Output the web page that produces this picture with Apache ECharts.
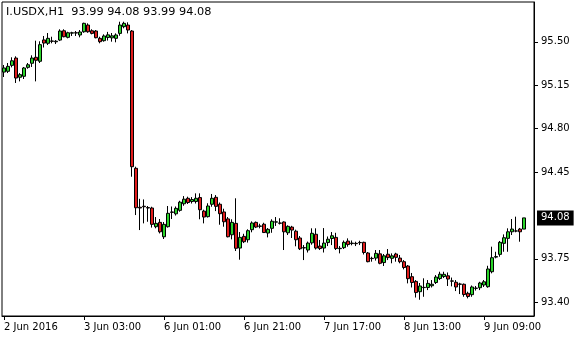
<!DOCTYPE html>
<html>
<head>
<meta charset="utf-8">
<script src="https://cdn.jsdelivr.net/npm/echarts@6/dist/echarts.min.js"></script>
<style>
html,body{margin:0;padding:0;background:#fff;}
#chart{width:580px;height:340px;}
</style>
</head>
<body>
<div id="chart"></div>
<script>
// ---- data ----
const symbol = 'I.USDX';
const period = 'H1';
const firstLabel = '2 Jun 2016';
const sessionStarts = [Date.UTC(2016, 5, 2, 7), Date.UTC(2016, 5, 6, 1)];
const sessionLengths = [40, 91];
const emptySlots = 2;

const opens = [95.256,95.262,95.310,95.369,95.214,95.222,95.294,95.327,95.375,95.343,
95.515,95.488,95.507,95.500,95.514,95.589,95.536,95.570,95.573,95.555,
95.581,95.635,95.589,95.587,95.528,95.509,95.535,95.532,95.528,95.568,
95.622,95.635,95.587,94.480,94.166,94.174,94.163,94.160,94.009,94.044,
93.928,94.009,94.128,94.113,94.141,94.194,94.238,94.212,94.212,94.244,
94.135,94.090,94.190,94.246,94.190,94.128,94.072,93.944,94.036,93.837,
93.931,93.904,93.985,94.044,94.015,94.029,93.958,93.996,94.046,94.039,
94.047,93.960,94.006,93.973,93.918,93.838,93.821,93.879,93.948,93.853,
93.837,93.881,93.914,93.923,93.832,93.840,93.893,93.873,93.875,93.882,
93.883,93.797,93.754,93.756,93.790,93.720,93.787,93.754,93.789,93.756,
93.727,93.692,93.606,93.568,93.485,93.520,93.519,93.533,93.559,93.591,
93.607,93.613,93.572,93.561,93.547,93.545,93.472,93.461,93.512,93.517,
93.539,93.525,93.646,93.764,93.786,93.875,93.915,93.968,93.974,93.990,
93.99];
const highs = [95.313,95.329,95.375,95.383,95.248,95.297,95.329,95.391,95.509,95.504,
95.547,95.571,95.541,95.514,95.601,95.601,95.581,95.581,95.587,95.595,
95.654,95.649,95.601,95.595,95.541,95.560,95.580,95.571,95.568,95.662,
95.662,95.657,95.595,94.493,94.234,94.229,94.176,94.170,94.087,94.071,
94.047,94.176,94.172,94.172,94.218,94.256,94.251,94.248,94.278,94.278,
94.146,94.198,94.273,94.264,94.204,94.154,94.087,94.069,94.238,93.966,
93.952,93.988,94.052,94.051,94.033,94.041,93.998,94.069,94.087,94.077,
94.052,94.020,94.016,93.985,93.934,93.861,93.889,93.996,93.996,93.902,
93.998,93.930,93.966,93.960,93.853,93.898,93.915,93.898,93.888,93.896,
93.888,93.805,93.767,93.821,93.821,93.789,93.829,93.794,93.799,93.781,
93.740,93.700,93.636,93.579,93.555,93.593,93.579,93.579,93.619,93.646,
93.646,93.640,93.599,93.579,93.557,93.551,93.485,93.535,93.531,93.565,
93.579,93.694,93.848,93.807,93.894,93.947,93.996,94.071,94.090,93.999,
94.08];
const lows = [95.216,95.248,95.294,95.168,95.181,95.200,95.283,95.297,95.181,95.329,
95.454,95.474,95.488,95.482,95.506,95.536,95.528,95.547,95.547,95.536,
95.573,95.573,95.560,95.528,95.488,95.501,95.510,95.501,95.496,95.549,
95.609,95.568,94.412,94.103,93.982,94.036,94.049,94.002,93.996,93.955,
93.910,94.002,94.071,94.099,94.130,94.178,94.192,94.196,94.196,94.069,
94.036,94.083,94.170,94.135,94.025,94.009,93.923,93.907,93.813,93.743,
93.877,93.881,93.964,93.998,93.996,93.958,93.923,93.960,94.015,94.027,
93.821,93.942,93.918,93.851,93.821,93.740,93.801,93.864,93.825,93.821,
93.801,93.853,93.861,93.821,93.794,93.829,93.848,93.859,93.853,93.861,
93.785,93.722,93.727,93.736,93.706,93.692,93.740,93.714,93.727,93.714,
93.665,93.552,93.519,93.438,93.420,93.444,93.498,93.519,93.547,93.579,
93.595,93.531,93.528,93.490,93.466,93.444,93.431,93.444,93.494,93.498,
93.523,93.517,93.633,93.754,93.767,93.807,93.807,93.942,93.964,93.888,
93.99];
const closes = [95.289,95.302,95.347,95.208,95.235,95.289,95.315,95.369,95.351,95.477,
95.490,95.528,95.504,95.505,95.587,95.541,95.573,95.573,95.571,95.579,
95.649,95.581,95.568,95.533,95.501,95.547,95.556,95.548,95.555,95.635,
95.649,95.595,94.493,94.162,94.160,94.170,94.160,94.028,94.036,93.968,
94.028,94.117,94.125,94.157,94.207,94.231,94.204,94.228,94.238,94.146,
94.087,94.176,94.238,94.173,94.114,94.049,93.928,94.044,93.835,93.923,
93.888,93.977,94.039,94.006,94.012,93.962,93.988,94.053,94.048,94.037,
93.968,94.012,93.982,93.904,93.831,93.840,93.877,93.956,93.837,93.833,
93.877,93.908,93.936,93.833,93.835,93.883,93.865,93.877,93.872,93.880,
93.801,93.727,93.752,93.794,93.714,93.774,93.760,93.774,93.762,93.727,
93.680,93.590,93.559,93.478,93.531,93.518,93.552,93.545,93.603,93.626,
93.625,93.587,93.570,93.523,93.545,93.462,93.446,93.523,93.514,93.555,
93.565,93.668,93.759,93.768,93.883,93.920,93.968,93.990,93.975,93.968,
94.08];

// price-scale labels shown on the right (94.10 is hidden behind the current-price tag)
const yTickValues = [93.40, 93.75, 94.45, 94.80, 95.15, 95.50];
const yMin = 93.289;
const yMax = 95.821;

// ---- build ----
function pad(n) { return (n < 10 ? '0' : '') + n; }
const categories = [];
sessionStarts.forEach((start, s) => {
  for (let k = 0; k < sessionLengths[s]; k++) {
    const d = new Date(start + k * 3600000);
    categories.push(d.getUTCDate() + ' Jun ' + pad(d.getUTCHours()) + ':00');
  }
});
for (let k = 0; k < emptySlots; k++) categories.push(' '.repeat(k + 1));

const ohlc = opens.map((o, i) => [o, closes[i], lows[i], highs[i]]);
const last = opens.length - 1;
const titleText = symbol + ',' + period + '  ' +
  [opens[last], highs[last], lows[last], closes[last]].map(v => v.toFixed(2)).join(' ');

const FONT = 'DejaVu Sans';
const chart = echarts.init(document.getElementById('chart'), null, { renderer: 'canvas' });
chart.setOption({
  animation: false,
  backgroundColor: '#ffffff',
  title: {
    text: titleText,
    left: 6, top: 7, padding: 0,
    textStyle: { fontFamily: FONT, fontSize: 11.3, fontWeight: 'normal', color: '#000' }
  },
  grid: {
    left: 2, right: 46, top: 2, bottom: 24,
    show: true, borderColor: '#000', borderWidth: 1, backgroundColor: '#fff'
  },
  xAxis: {
    type: 'category',
    data: categories,
    boundaryGap: true,
    axisLine: { show: true, lineStyle: { color: '#000', width: 1 } },
    axisTick: { show: true, interval: 19, alignWithLabel: true, length: 4, lineStyle: { color: '#000' } },
    axisLabel: {
      interval: 19, align: 'left', margin: 6,
      fontFamily: FONT, fontSize: 10, color: '#000',
      formatter: (val, idx) => idx === 0 ? firstLabel : val
    },
    splitLine: { show: false }
  },
  yAxis: {
    type: 'value',
    position: 'right',
    min: yMin, max: yMax,
    axisLine: { show: true, lineStyle: { color: '#000', width: 1 } },
    axisTick: { show: true, length: 4, customValues: yTickValues, lineStyle: { color: '#000' } },
    axisLabel: {
      customValues: yTickValues, margin: 7,
      fontFamily: FONT, fontSize: 10, color: '#000',
      formatter: v => v.toFixed(2)
    },
    splitLine: { show: false }
  },
  series: [{
    type: 'candlestick',
    data: ohlc,
    barWidth: 3,
    itemStyle: {
      color: '#2ad42a', color0: '#e01c1c',
      borderColor: '#000', borderColor0: '#000', borderColorDoji: '#000',
      borderWidth: 1
    },
    markLine: {
      silent: true,
      symbol: 'none',
      animation: false,
      lineStyle: { color: 'rgba(0,0,0,0)', width: 1, type: 'solid' },
      data: [{ yAxis: closes[last] }],
      label: {
        show: true, position: 'end', distance: 3,
        formatter: () => closes[last].toFixed(2),
        backgroundColor: '#000', color: '#fff',
        fontFamily: FONT, fontSize: 10,
        padding: [3, 4, 2, 4]
      }
    }
  }]
});
</script>
</body>
</html>
